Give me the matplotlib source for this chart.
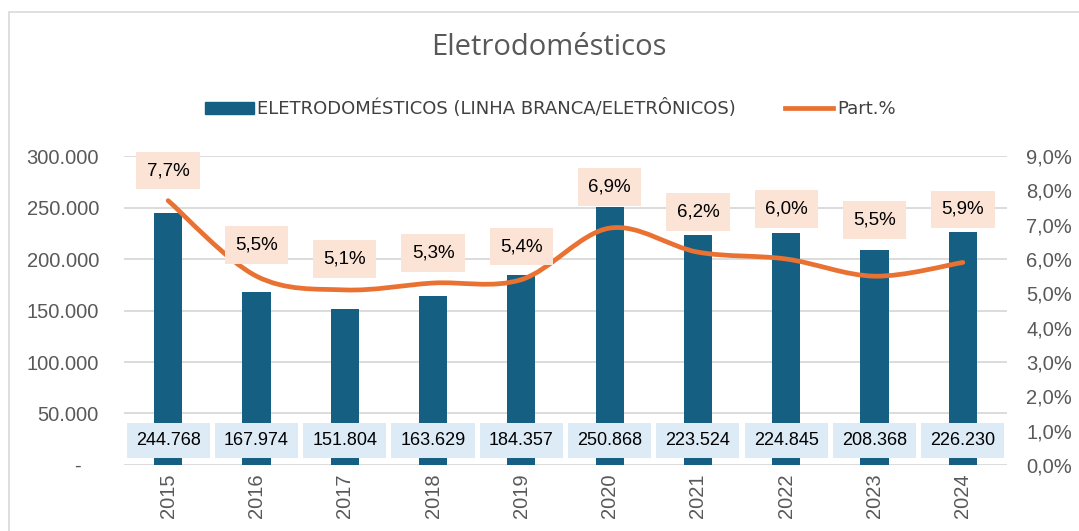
import numpy as np
import matplotlib
matplotlib.use("Agg")
import matplotlib.pyplot as plt
from matplotlib.path import Path
from matplotlib.patches import PathPatch, Rectangle, Patch
from matplotlib.lines import Line2D
from matplotlib.ticker import FuncFormatter

years = ["2015", "2016", "2017", "2018", "2019", "2020", "2021", "2022", "2023", "2024"]
valores = [244768, 167974, 151804, 163629, 184357, 250868, 223524, 224845, 208368, 226230]
part = [7.7, 5.5, 5.1, 5.3, 5.4, 6.9, 6.2, 6.0, 5.5, 5.9]

# how far each % label sits above its point (pixels), labels were moved by hand
label_lift = [30, 31, 31, 30, 33, 41, 40, 50, 56, 53]

BLUE = "#156082"
ORANGE = "#E97132"
GRAY = "#595959"

plt.rcParams["font.family"] = ["Liberation Sans", "DejaVu Sans"]

fig = plt.figure(figsize=(10.79, 5.31), dpi=100)
ax = fig.add_axes([0.1149, 0.1243, 0.8184, 0.5819])
ax2 = ax.twinx()

x = np.arange(len(years))
ax.bar(x, valores, width=0.32, color=BLUE, zorder=2)

ax.set_ylim(0, 300000)
ax.set_xlim(-0.5, len(years) - 0.5)
ax.set_yticks(np.arange(0, 300001, 50000))
ax.yaxis.set_major_formatter(FuncFormatter(
    lambda v, p: "-   " if v == 0 else f"{int(v):,}".replace(",", ".")))
ax.grid(axis="y", color="#D9D9D9", lw=1.3, zorder=0)
ax.set_axisbelow(True)
ax.set_xticks(x)
ax.set_xticklabels(years, rotation=90)
ax.tick_params(axis="both", length=0, labelsize=14.5, labelcolor=GRAY)
ax.tick_params(axis="y", pad=18)
ax.tick_params(axis="x", pad=6)
for s in ax.spines.values():
    s.set_visible(False)

ax2.set_ylim(0, 9)
ax2.set_yticks(np.arange(0, 9.01, 1))
ax2.yaxis.set_major_formatter(FuncFormatter(lambda v, p: f"{v:.1f}%".replace(".", ",")))
ax2.tick_params(axis="y", length=0, labelsize=14.5, labelcolor=GRAY, pad=14)
for s in ax2.spines.values():
    s.set_visible(False)

# smoothed line (bezier through data points)
pts = np.column_stack([x, part]).astype(float)
verts = [pts[0]]
codes = [Path.MOVETO]
n = len(pts)
for i in range(n - 1):
    p0 = pts[i - 1] if i > 0 else pts[i]
    p1 = pts[i]
    p2 = pts[i + 1]
    p3 = pts[i + 2] if i + 2 < n else pts[i + 1]
    c1 = p1 + (p2 - p0) / 6
    c2 = p2 - (p3 - p1) / 6
    verts += [c1, c2, p2]
    codes += [Path.CURVE4] * 3
ax2.add_patch(PathPatch(Path(verts, codes), facecolor="none", edgecolor=ORANGE,
                        lw=3.4, capstyle="round", zorder=3))

for xi, v in zip(x, valores):
    ax.annotate(f"{v:,}".replace(",", "."), (xi, 0), xytext=(0, 17.3),
                textcoords="offset points", ha="center", va="center", fontsize=13,
                color="black", zorder=5,
                bbox=dict(boxstyle="square,pad=0.5", fc="#DDEBF7", ec="none"))

for xi, p, lift in zip(x, part, label_lift):
    ax2.annotate(f"{p:.1f}%".replace(".", ","), (xi, p), xytext=(0, lift * 0.72),
                 textcoords="offset points", ha="center", va="center", fontsize=13.5,
                 color="black", zorder=5,
                 bbox=dict(boxstyle="square,pad=0.55", fc="#FBE3D6", ec="none"))

fig.text(0.509, 0.91, "Eletrodomésticos", ha="center", va="center",
         fontsize=21, color=GRAY, family=["Open Sans", "DejaVu Sans"])

handles = [Patch(color=BLUE), Line2D([], [], color=ORANGE, lw=3.4)]
leg = fig.legend(handles, ["ELETRODOMÉSTICOS (LINHA BRANCA/ELETRÔNICOS)", "Part.%"],
                 loc="center", bbox_to_anchor=(0.51, 0.795), ncol=2, frameon=False,
                 handlelength=2.7, handletextpad=0.2, columnspacing=2.7,
                 prop=dict(family=["Liberation Sans Narrow", "DejaVu Sans"], size=13))
for t in leg.get_texts():
    t.set_color("#404040")

fig.patches.append(Rectangle((0.008, -0.05), 1.2, 1.027, transform=fig.transFigure,
                             fill=False, ec="#D9D9D9", lw=1.2))

fig.savefig("out.png", dpi=100)
